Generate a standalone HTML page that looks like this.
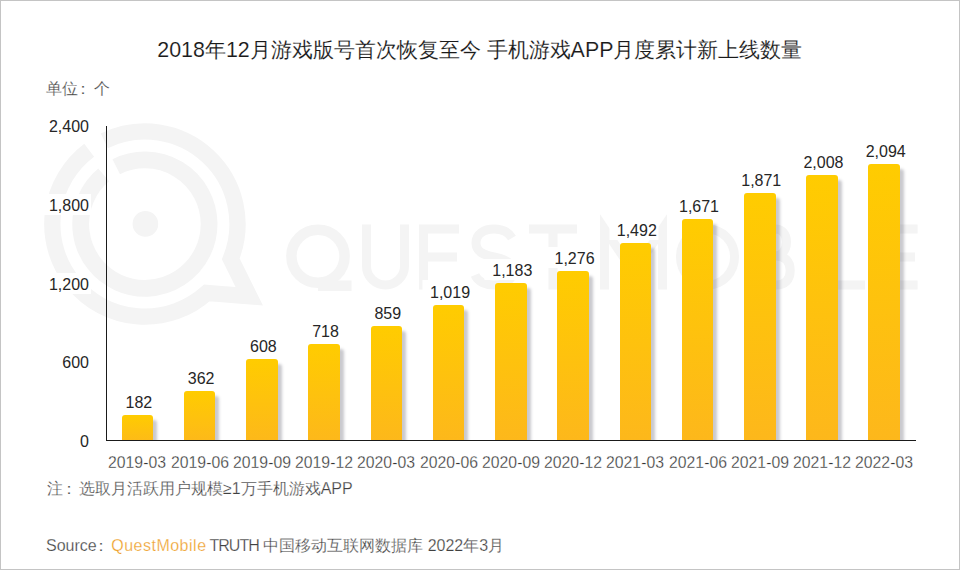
<!DOCTYPE html>
<html><head><meta charset="utf-8">
<style>
html,body{margin:0;padding:0;}
body{width:960px;height:570px;position:relative;overflow:hidden;background:#fff;font-family:"Liberation Sans",sans-serif;}
#frame{position:absolute;left:0;top:0;width:958px;height:568px;border:1px solid #c4c4c4;}
.t{position:absolute;white-space:nowrap;line-height:1;}
#title{left:157.3px;top:39.5px;font-size:21.4px;color:#1a1a1a;-webkit-text-stroke:0.12px #fff;}
#unit{left:45.5px;top:80.5px;font-size:16px;color:#444;-webkit-text-stroke:0.2px #fff;}
.yl{position:absolute;right:869.5px;font-size:16px;color:#262626;line-height:1;white-space:nowrap;background:#fff;padding:4.5px 1.5px 1px 7.5px;}
#yaxis{position:absolute;left:106px;top:126px;width:1px;height:315px;background:#1a1a1a;}
#xaxis{position:absolute;left:106px;top:440px;width:810px;height:1px;background:#1a1a1a;}
#plot{position:absolute;left:106px;top:100px;width:820px;height:340px;overflow:hidden;}
.bar{position:absolute;width:31.5px;border-radius:3px 3px 0 0;background:linear-gradient(#ffcc00,#fdb71c);box-shadow:4px 5px 3px rgba(40,40,60,0.25);}
.bv{position:absolute;font-size:16px;color:#262626;line-height:1;background:#fff;padding:4.5px 1.5px 1px 7.5px;transform:translateX(-50%);white-space:nowrap;}
.xl{position:absolute;top:455px;width:80px;text-align:center;font-size:16.8px;color:#333;line-height:1;transform:scaleX(0.94);-webkit-text-stroke:0.3px #fff;}
#note{left:47px;top:481px;font-size:16px;color:#404040;-webkit-text-stroke:0.25px #fff;}
#src{left:46px;top:538px;font-size:16px;color:#404040;-webkit-text-stroke:0.25px #fff;}
#src .qm{color:#eea02a;letter-spacing:0.5px;}
</style></head>
<body>
<svg width="960" height="570" style="position:absolute;left:0;top:0">
<g fill="none" stroke="#f4f4f4" stroke-width="16.3"><path d="M104.31 140.87 A92.6 92.6 0 0 1 230.76 258.79 L249.3 296.3 L206.86 292.92 A92.6 92.6 0 1 1 89.17 150.15"/><path d="M116.25 166.65 A64.2 64.2 0 1 1 103.63 174.92" stroke-width="16.8"/></g>
<circle cx="145.4" cy="223.9" r="12.8" fill="#f4f4f4"/>
<g fill="none" stroke="#f4f4f4" stroke-width="9" stroke-linejoin="miter">
<ellipse cx="318" cy="256.3" rx="26.6" ry="26.5" stroke-width="10.5"/>
<path d="M318 285.8 H351.5" stroke-width="10.4"/>
<path d="M366.5 224.5 V266 A19 19 0 0 0 404.5 266 V224.5"/>
<path d="M459 229 H423.5 V285 H459 M423.5 257 H457"/>
<path d="M512 238 C508 231 500 229 494 229 C484 229 476 234 476 243 C476 252 484 255 494 257 C505 259 513 263 513 271 C513 280 504 285 494 285 C486 285 478 282 475 275"/>
<path d="M529 229 H577 M553 229 V289.5"/>
<path d="M604.5 289.5 V229 L633.5 272 L662.5 229 V289.5"/>
<ellipse cx="707.5" cy="257" rx="27" ry="28"/>
<path d="M754.5 229 H775 C782 229 786.5 234 786.5 242 C786.5 250 782 256 775 256 H754.5 M776 256 C785 256 790.2 261 790.2 270.5 C790.2 280 785 285 776 285 H754.5 V229"/>
<path d="M810.5 224.5 V289.5"/>
<path d="M832.5 224.5 V285 H865"/>
<path d="M917.6 229 H885 V285 H917.6 M885 257 H915"/>
</g>
</svg>
<div id="frame"></div>
<div class="t" id="title">2018年12月游戏版号首次恢复至今 手机游戏APP月度累计新上线数量</div>
<div class="t" id="unit">单位<span style="position:relative;left:-3px">：</span>个</div>
<div class="yl" style="top:114.5px">2,400</div>
<div class="yl" style="top:193.5px">1,800</div>
<div class="yl" style="top:272.5px">1,200</div>
<div class="yl" style="top:350.5px">600</div>
<div class="yl" style="top:429.5px">0</div>
<div id="plot"><div class="bar" style="left:15.60px;top:314.55px;height:31.45px"></div><div class="bar" style="left:77.84px;top:290.96px;height:55.04px"></div><div class="bar" style="left:140.08px;top:258.72px;height:87.28px"></div><div class="bar" style="left:202.32px;top:244.30px;height:101.70px"></div><div class="bar" style="left:264.56px;top:225.82px;height:120.18px"></div><div class="bar" style="left:326.80px;top:204.85px;height:141.15px"></div><div class="bar" style="left:389.04px;top:183.36px;height:162.64px"></div><div class="bar" style="left:451.28px;top:171.17px;height:174.83px"></div><div class="bar" style="left:513.52px;top:142.86px;height:203.14px"></div><div class="bar" style="left:575.76px;top:119.40px;height:226.60px"></div><div class="bar" style="left:638.00px;top:93.19px;height:252.81px"></div><div class="bar" style="left:700.24px;top:75.23px;height:270.77px"></div><div class="bar" style="left:762.48px;top:63.96px;height:282.04px"></div></div>
<div class="bv" style="left:135.85px;top:390.05px">182</div><div class="bv" style="left:198.09px;top:366.46px">362</div><div class="bv" style="left:260.33px;top:334.22px">608</div><div class="bv" style="left:322.57px;top:319.80px">718</div><div class="bv" style="left:384.81px;top:301.32px">859</div><div class="bv" style="left:447.05px;top:280.35px">1,019</div><div class="bv" style="left:509.29px;top:258.86px">1,183</div><div class="bv" style="left:571.53px;top:246.67px">1,276</div><div class="bv" style="left:633.77px;top:218.36px">1,492</div><div class="bv" style="left:696.01px;top:194.90px">1,671</div><div class="bv" style="left:758.25px;top:168.69px">1,871</div><div class="bv" style="left:820.49px;top:150.73px">2,008</div><div class="bv" style="left:882.73px;top:139.46px">2,094</div>
<div class="xl" style="left:97.35px">2019-03</div><div class="xl" style="left:159.59px">2019-06</div><div class="xl" style="left:221.83px">2019-09</div><div class="xl" style="left:284.07px">2019-12</div><div class="xl" style="left:346.31px">2020-03</div><div class="xl" style="left:408.55px">2020-06</div><div class="xl" style="left:470.79px">2020-09</div><div class="xl" style="left:533.03px">2020-12</div><div class="xl" style="left:595.27px">2021-03</div><div class="xl" style="left:657.51px">2021-06</div><div class="xl" style="left:719.75px">2021-09</div><div class="xl" style="left:781.99px">2021-12</div><div class="xl" style="left:844.23px">2022-03</div>
<div id="yaxis"></div>
<div id="xaxis"></div>
<div class="t" id="note">注<span style="position:relative;left:-2.5px">：</span>选取月活跃用户规模≥1万手机游戏APP</div>
<div class="t" id="src">Source<span style="position:relative;left:-4px">：</span><span class="qm" style="margin-left:-1.5px">QuestMobile</span><span style="letter-spacing:-1px;margin-left:3px">TRUTH</span> 中国移动互联网数据库 2022年3月</div>
</body></html>
